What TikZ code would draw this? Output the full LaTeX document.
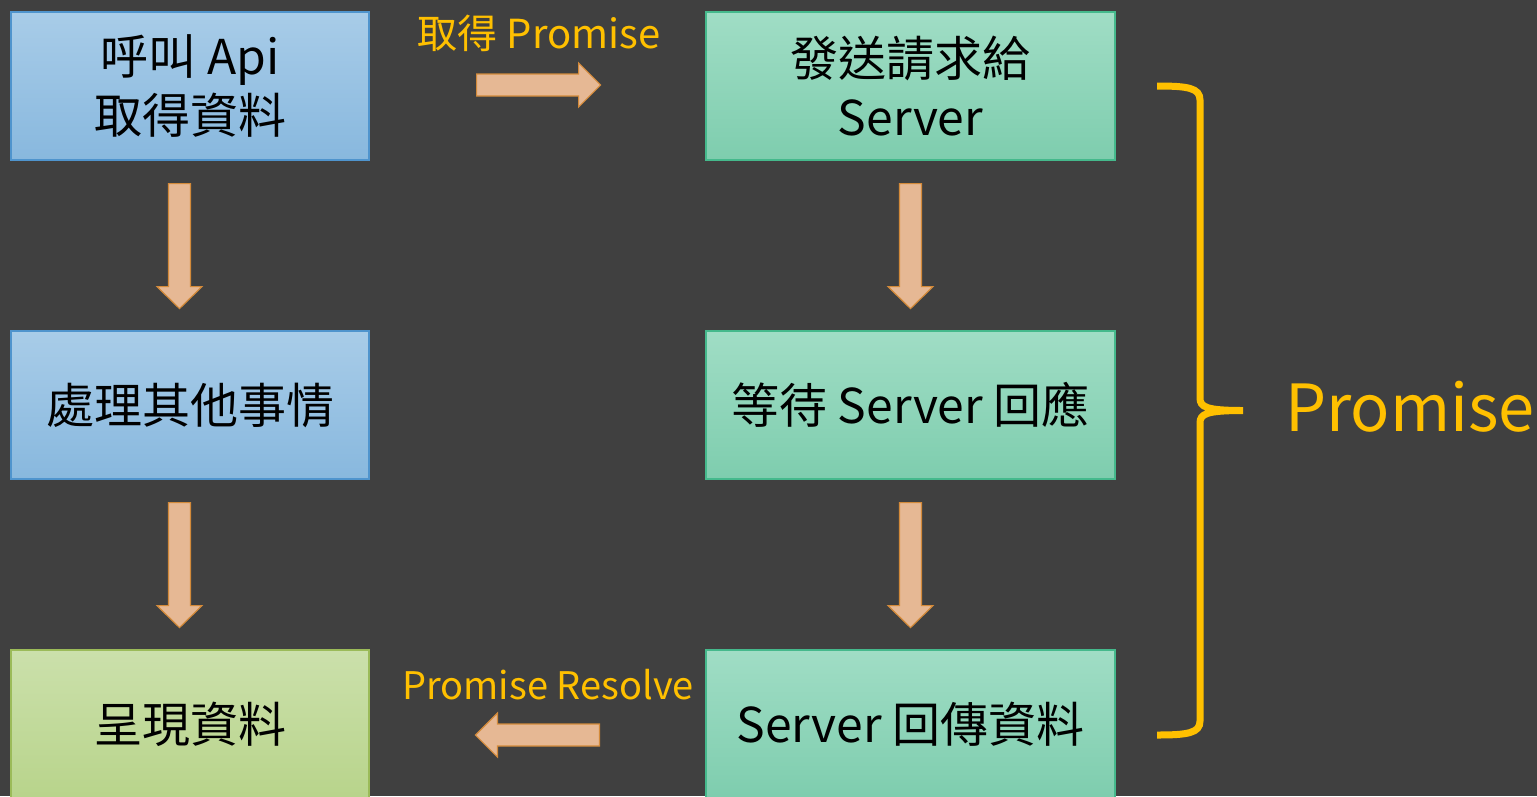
\documentclass[tikz,border=0pt]{standalone}
\usepackage{fontspec}
\setmainfont{Noto Sans CJK TC}
\usetikzlibrary{calc}
\definecolor{bg}{HTML}{404040}
\definecolor{bluetop}{HTML}{A8CCE8}
\definecolor{bluebot}{HTML}{88B8DE}
\definecolor{blueborder}{HTML}{4F94CD}
\definecolor{tealtop}{HTML}{A0DDC5}
\definecolor{tealbot}{HTML}{7ECDAE}
\definecolor{tealborder}{HTML}{45B98C}
\definecolor{greentop}{HTML}{CBE0AB}
\definecolor{greenbot}{HTML}{B8D48B}
\definecolor{greenborder}{HTML}{9BBB59}
\definecolor{arrfill}{HTML}{E6B894}
\definecolor{arrborder}{HTML}{D38A3A}
\definecolor{gold}{HTML}{FFC000}
\tikzset{
  box/.style={draw, line width=1.2pt, minimum height=148pt, inner sep=0pt, align=center,
    text=black, font=\fontsize{48}{59}\selectfont},
  bluebox/.style={box, minimum width=358pt, top color=bluetop, bottom color=bluebot, draw=blueborder},
  greenbox/.style={box, minimum width=358pt, top color=greentop, bottom color=greenbot, draw=greenborder},
  tealbox/.style={box, minimum width=409pt, top color=tealtop, bottom color=tealbot, draw=tealborder},
  barrow/.style={fill=arrfill, draw=arrborder, line width=1.2pt, line join=miter},
  lbl/.style={text=gold, inner sep=0pt, font=\fontsize{40}{44}\selectfont},
  lbltwo/.style={text=gold, inner sep=0pt, font=\fontsize{38}{44}\selectfont},
  biglbl/.style={text=gold, inner sep=0pt, font=\fontsize{65}{70}\selectfont},
  bracestyle/.style={draw=gold, line width=7pt},
  downarr/.pic={\draw[barrow] (-11,0) -- (11,0) -- (11,103) -- (22.5,103) -- (0,125) -- (-22.5,103) -- (-11,103) -- cycle;},
  rightarr/.pic={\draw[barrow] (0,-11) -- (102,-11) -- (102,-22) -- (124,0) -- (102,22) -- (102,11) -- (0,11) -- cycle;},
  leftarr/.pic={\draw[barrow] (0,0) -- (22,-22) -- (22,-11) -- (124,-11) -- (124,11) -- (22,11) -- (22,22) -- cycle;}
}
\begin{document}
\begin{tikzpicture}[x=1pt,y=-1pt]
\fill[bg] (0,0) rectangle (1537,796);
\useasboundingbox (0,0) rectangle (1537,796);
\clip (0,0) rectangle (1537,796);

\node[bluebox] (call) at (190,86) {呼叫 Api\\取得資料};
\node[bluebox] (other) at (190,405) {處理其他事情};
\node[greenbox] (show) at (190,724) {呈現資料};
\node[tealbox] (send) at (910.5,86) {發送請求給\\Server};
\node[tealbox] (wait) at (910.5,405) {等待 Server 回應};
\node[tealbox] (ret) at (910.5,724) {Server 回傳資料};

\pic at ($(call.south)+(-10.5,23)$) {downarr};
\pic at ($(other.south)+(-10.5,23)$) {downarr};
\pic at ($(send.south)+(0,23)$) {downarr};
\pic at ($(wait.south)+(0,23)$) {downarr};
\pic at ($(call.east)+(107,-1)$) {rightarr};
\pic at ($(show.west)+(465,11)$) {leftarr};

\node[lbl] (getp) at (539,33) {取得 Promise};
\node[lbltwo] (res) at (548,685) {Promise Resolve};
\node[biglbl] (prom) at (1410,407) {Promise};

\coordinate (btop) at (1157,86);
\coordinate (bmid) at (1243,410.5);
\coordinate (bbot) at (1157,735);
\draw[bracestyle] (btop) .. controls (1188,86) and (1200,88) .. (1200,100)
  -- (1200,398) .. controls (1200,407) and (1206,410.5) .. (bmid)
  (bbot) .. controls (1188,735) and (1200,733) .. (1200,721)
  -- (1200,423) .. controls (1200,414) and (1206,410.5) .. (bmid);
\end{tikzpicture}
\end{document}
